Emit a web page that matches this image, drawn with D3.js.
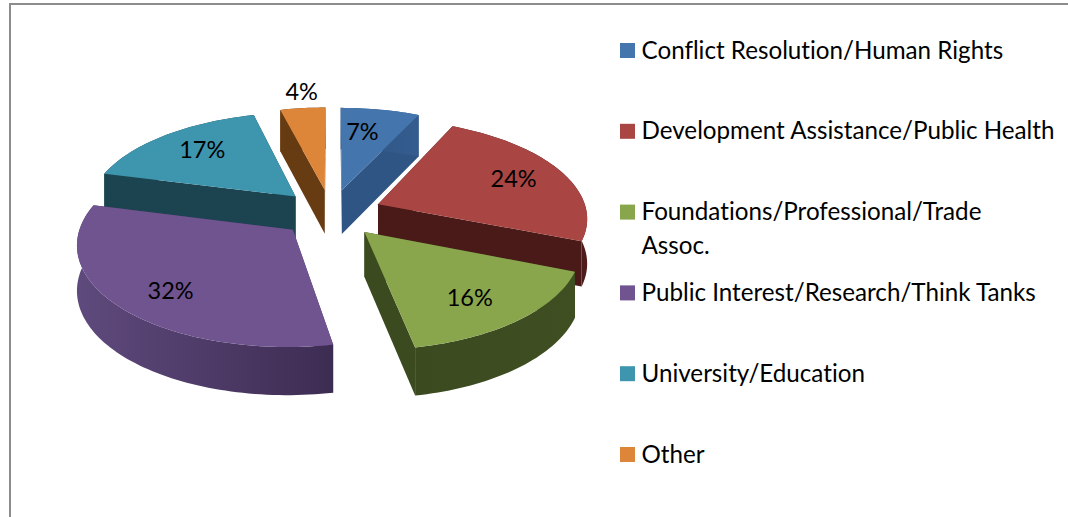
<!DOCTYPE html>
<html><head><meta charset="utf-8">
<script src="https://cdn.jsdelivr.net/npm/d3@7"></script>
<style>html,body{margin:0;padding:0;background:#fff;overflow:hidden}svg{display:block}text{font-family:Lato,"Open Sans",sans-serif;fill:#000;font-variant-ligatures:none}</style>
</head><body><svg id="c" width="1068" height="517"></svg>
<script>
const categories = ["Conflict Resolution/Human Rights","Development Assistance/Public Health","Foundations/Professional/Trade Assoc.","Public Interest/Research/Think Tanks","University/Education","Other"];
const legendLines = [["Conflict Resolution/Human Rights"],["Development Assistance/Public Health"],["Foundations/Professional/Trade","Assoc."],["Public Interest/Research/Think Tanks"],["University/Education"],["Other"]];
const values = [7,24,16,32,17,4];
const colors = ["#4475ac","#a94543","#8aa64d","#6f5490","#3d96ae","#dd8538"];
const wallColors = ["#2f5584","#4a1a18","#3b4a1f","#4f3b68","#1b4350","#683c12"];
const wallEdgeColors = ["#345c8e","#4e1c1a","#3f4f22","#3d2c52","#1c4552","#5f3710"];
const labelOffsets = [[-9,4],[21,-4],[13,14],[-18,15],[-10,-8],[5,6]];

const W=1068,H=517, cx=331, cy=213, Rx=209, Ry=98, P=0.125, E=0.245, D=44.5;
const svg=d3.select("#c");
const project=(u,v,z=0)=>{const s=1/(1-P*v);return [cx+Rx*u*s, cy+Ry*v*s+D*z*Math.sqrt(s)];};
const line=d3.line();
const pie=d3.pie().sort(null).value(d=>d)(values);
const defs=svg.append("defs");

// chart frame
svg.append("path").attr("d",line([[10,517],[10,4],[1068,4]])).attr("fill","none").attr("stroke","#8c8c8c").attr("stroke-width",2);

const drawOrder=[5,0,4,1,3,2];
const gChart=svg.append("g");
drawOrder.forEach(i=>{
  const p=pie[i], mid=(p.startAngle+p.endAngle)/2;
  const ox=E*Math.sin(mid), oy=-E*Math.cos(mid);
  const pt=(a,r,z)=>project(ox+r*Math.sin(a),oy-r*Math.cos(a),z);
  const n=Math.max(8,Math.ceil((p.endAngle-p.startAngle)*40));
  const angles=d3.range(n+1).map(k=>p.startAngle+(p.endAngle-p.startAngle)*k/n);
  const g=gChart.append("g");
  const grad=defs.append("linearGradient").attr("id","w"+i).attr("gradientUnits","userSpaceOnUse");
  const xs=angles.map(a=>pt(a,1,0)[0]);
  grad.attr("x1",d3.min(xs)).attr("x2",d3.max(xs)).attr("y1",0).attr("y2",0);
  grad.append("stop").attr("offset",0).attr("stop-color",i===3?"#5f4a7d":wallColors[i]);
  grad.append("stop").attr("offset",1).attr("stop-color",wallEdgeColors[i]);
  // cut faces
  [p.startAngle,p.endAngle].forEach(a=>{
    g.append("path").attr("d",line([pt(a,0,0),pt(a,1,0),pt(a,1,1),pt(a,0,1)])+"Z").attr("fill",wallColors[i]);
  });
  // outer wall
  const wall=[...angles.map(a=>pt(a,1,0)),...angles.slice().reverse().map(a=>pt(a,1,1))];
  g.append("path").attr("d",line(wall)+"Z").attr("fill",`url(#w${i})`);
  // top
  const top=[pt(0,0,0),...angles.map(a=>pt(a,1,0))];
  g.append("path").attr("d",line(top)+"Z").attr("fill",colors[i]);
  // label
  const r=i===5?1.32:(i===0?0.75:0.62);
  const lp=pt(mid,r,0), lo=labelOffsets[i];
  g.append("text").attr("x",lp[0]+lo[0]).attr("y",lp[1]+lo[1]).attr("dy","0.35em").attr("text-anchor","middle").attr("font-size",23.5).text(values[i]+"%");
});

// legend
const legendY=d3.scalePoint().domain(d3.range(categories.length)).range([50.5,454.5]);
const legend=svg.append("g");
categories.forEach((c,i)=>{
  const y=legendY(i);
  legend.append("rect").attr("x",620).attr("y",y-7.5).attr("width",15).attr("height",15).attr("fill",colors[i]);
  const t=legend.append("text").attr("x",641.5).attr("y",y+8).attr("font-size",24.2);
  legendLines[i].forEach((l,k)=>t.append("tspan").attr("x",641.5).attr("dy",k?34:0).text(l));
});
</script></body></html>
